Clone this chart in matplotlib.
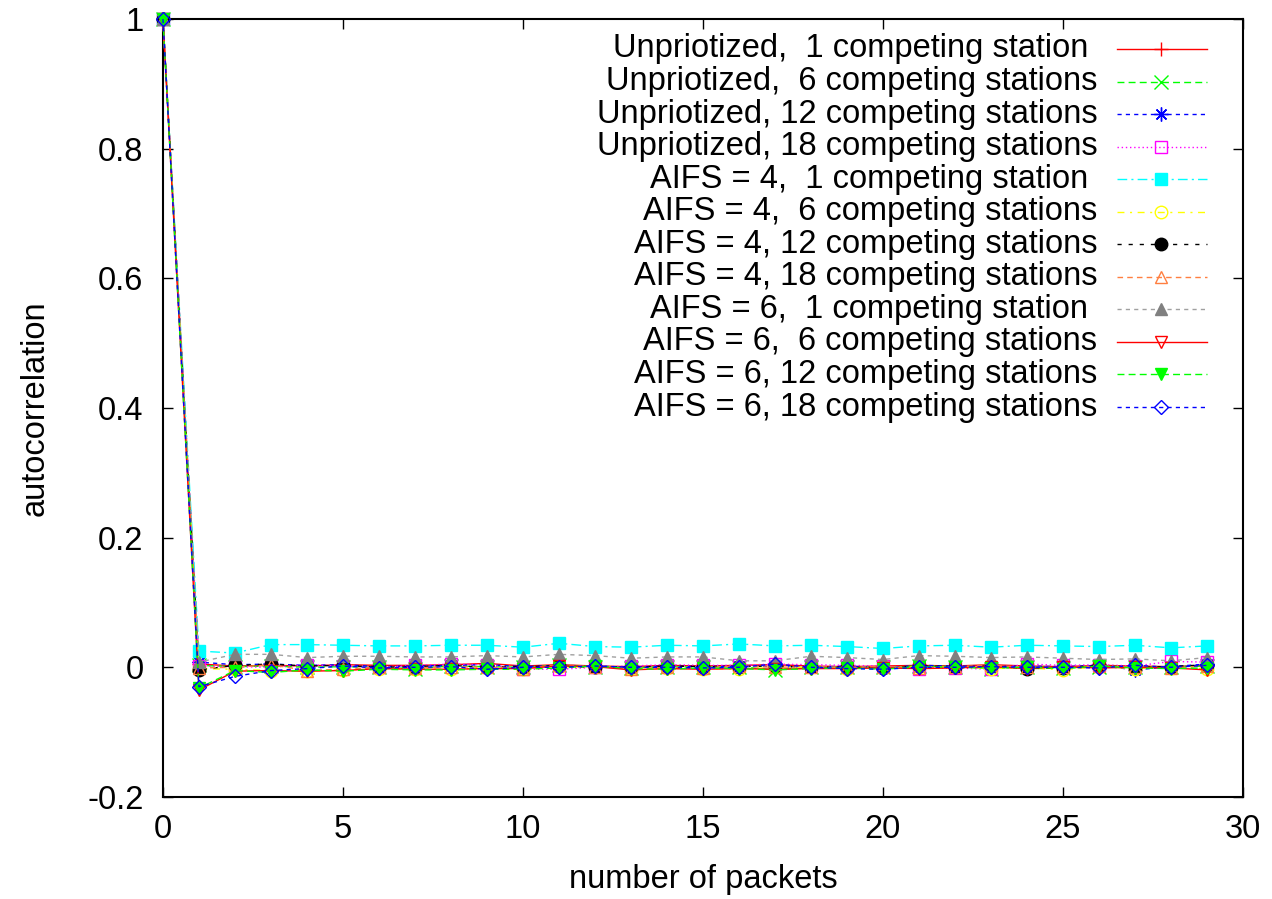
import numpy as np
import matplotlib
matplotlib.use("Agg")
import matplotlib.pyplot as plt

plt.rcParams['font.family'] = ['Liberation Sans', 'DejaVu Sans']

# lag axis
lags = np.arange(0, 30)

# autocorrelation per scenario (lag 1..29, lag 0 is always 1)
unprio_1 = [0.005, 0.002, 0.003, 0.002, 0.004, 0.003, 0.003, 0.004, 0.006, 0.002, 0.004, 0.002, 0.001, 0.003, 0.002,
            0.003, 0.004, 0.002, 0.001, 0.002, 0.003, 0.002, 0.004, 0.002, 0.001, 0.003, 0.002, 0.001, 0.003]
unprio_6 = [0.003, 0.001, 0.002, 0.0, 0.001, 0.0, -0.002, 0.002, 0.001, 0.0, 0.003, 0.001, -0.001, 0.001, 0.0,
            0.001, -0.004, 0.0, 0.001, 0.0, 0.002, 0.001, -0.002, 0.001, -0.001, 0.001, 0.0, 0.001, 0.002]
unprio_12 = [0.008, 0.004, 0.005, 0.003, 0.004, 0.001, 0.002, 0.003, 0.004, 0.001, 0.003, 0.002, 0.0, 0.002, 0.001,
             0.002, 0.001, 0.0, 0.002, -0.001, 0.003, 0.002, 0.001, 0.002, 0.001, 0.003, -0.004, 0.001, 0.005]
unprio_18 = [0.002, 0.001, 0.0, 0.004, 0.002, 0.0, 0.003, 0.005, 0.004, -0.003, -0.003, 0.0, 0.002, 0.004, 0.003,
             0.003, 0.005, 0.004, 0.003, 0.002, -0.002, -0.001, -0.003, 0.005, 0.003, 0.004, 0.002, 0.009, 0.008]
aifs4_1 = [0.025, 0.022, 0.035, 0.035, 0.034, 0.033, 0.033, 0.034, 0.034, 0.031, 0.037, 0.032, 0.031, 0.034, 0.033,
           0.036, 0.033, 0.034, 0.032, 0.029, 0.033, 0.034, 0.031, 0.034, 0.033, 0.032, 0.034, 0.030, 0.033]
aifs4_6 = [-0.002, -0.003, -0.005, -0.006, -0.004, -0.002, -0.002, -0.003, -0.001, -0.003, 0.0, 0.001, -0.002, -0.001, -0.002,
           -0.003, 0.0, 0.0, -0.002, -0.001, 0.001, 0.0, -0.002, -0.001, -0.004, 0.001, -0.002, -0.001, -0.002]
aifs4_12 = [-0.004, 0.003, 0.005, 0.002, 0.003, 0.0, 0.001, 0.003, 0.0, 0.001, 0.002, 0.0, 0.0, 0.002, 0.001,
            0.001, 0.002, 0.0, 0.0, -0.001, 0.002, 0.001, 0.002, -0.002, -0.001, 0.003, 0.0, 0.001, 0.004]
aifs4_18 = [-0.001, 0.0, 0.004, -0.005, -0.003, 0.0, -0.001, 0.001, 0.0, -0.002, 0.004, 0.001, -0.002, 0.0, -0.001,
            0.002, 0.0, 0.001, 0.0, 0.001, -0.001, 0.001, 0.003, 0.0, 0.0, 0.002, 0.001, -0.001, 0.002]
aifs6_1 = [0.008, 0.020, 0.020, 0.015, 0.017, 0.017, 0.016, 0.016, 0.018, 0.016, 0.020, 0.018, 0.014, 0.016, 0.016,
           0.010, 0.010, 0.017, 0.015, 0.012, 0.018, 0.017, 0.015, 0.016, 0.014, 0.012, 0.013, 0.010, 0.015]
aifs6_6 = [-0.035, -0.006, -0.005, -0.006, -0.005, -0.002, -0.003, -0.003, -0.002, -0.002, 0.002, 0.001, -0.004, -0.002, -0.003,
           -0.002, -0.003, -0.002, -0.002, -0.001, -0.002, -0.001, 0.001, -0.002, 0.001, -0.001, 0.0, -0.001, -0.004]
aifs6_12 = [-0.032, -0.005, -0.008, -0.004, -0.006, -0.003, -0.004, -0.004, -0.003, -0.003, -0.001, 0.002, -0.002, -0.003, -0.001,
            -0.002, -0.004, -0.002, -0.001, -0.003, 0.001, 0.0, -0.001, 0.0, -0.002, 0.002, -0.001, -0.002, -0.001]
aifs6_18 = [-0.030, -0.014, -0.005, -0.002, 0.002, -0.001, 0.0, 0.001, -0.003, 0.0, 0.0, 0.002, 0.0, 0.0, -0.001,
            0.0, 0.005, 0.0, -0.002, -0.003, 0.0, 0.0, 0.001, 0.0, 0.0, -0.001, 0.003, 0.0, 0.003]

labels = [
    "Unpriotized,  1 competing station ",
    "Unpriotized,  6 competing stations",
    "Unpriotized, 12 competing stations",
    "Unpriotized, 18 competing stations",
    "AIFS = 4,  1 competing station ",
    "AIFS = 4,  6 competing stations",
    "AIFS = 4, 12 competing stations",
    "AIFS = 4, 18 competing stations",
    "AIFS = 6,  1 competing station ",
    "AIFS = 6,  6 competing stations",
    "AIFS = 6, 12 competing stations",
    "AIFS = 6, 18 competing stations",
]
series = [unprio_1, unprio_6, unprio_12, unprio_18, aifs4_1, aifs4_6,
          aifs4_12, aifs4_18, aifs6_1, aifs6_6, aifs6_12, aifs6_18]

# gnuplot-like line types: (color, dashes, marker, filled)
styles = [
    ("#ff0000", None, "+", False),
    ("#00ff00", (5, 3), "x", False),
    ("#0000ff", (3, 3), (8, 2, 0), False),
    ("#ff00ff", (1, 2), "s", False),
    ("#00ffff", (7, 3, 1.5, 3), "s", True),
    ("#ffff00", (5, 4, 1.5, 4), "o", False),
    ("#000000", (3, 5), "o", True),
    ("#ff7f40", (4, 3), "^", False),
    ("#a0a0a0", (3, 3), "^", True),
    ("#ff0000", None, "v", False),
    ("#00ff00", (5, 3), "v", True),
    ("#0000ff", (3, 3), "D", False),
]
marker_color = {8: "#808080"}
FS = 23.5

fig = plt.figure(figsize=(12.72, 8.99), dpi=100)
ax = fig.add_axes([0.1281, 0.1135, 0.8491, 0.8654])


def line_kw(i):
    color, dashes, marker, filled = styles[i]
    mcol = marker_color.get(i, color)
    kw = dict(color=color, lw=1.0, marker=marker, ms=9,
              markeredgecolor=mcol, markerfacecolor=mcol if filled else "none",
              markeredgewidth=1.0)
    if marker == "D":
        kw["ms"] = 7.5
    if marker in ("+", "x") or isinstance(marker, tuple):
        kw["ms"] = 10
    kw["linestyle"] = "-" if dashes is None else (0, dashes)
    return kw


for i, vals in enumerate(series):
    y = np.concatenate([[1.0], vals])
    ax.plot(lags, y, clip_on=False, zorder=3, **line_kw(i))

ax.set_xlim(0, 30)
ax.set_ylim(-0.2, 1.0)
ax.set_xticks(np.arange(0, 31, 5))
ax.set_yticks([-0.2, 0, 0.2, 0.4, 0.6, 0.8, 1.0])
ax.set_yticklabels(["-0.2", "0", "0.2", "0.4", "0.6", "0.8", "1"])
ax.tick_params(direction="in", top=True, right=True, length=7, width=1.0,
               labelsize=FS)
ax.tick_params(axis="y", pad=14)
ax.tick_params(axis="x", pad=12)
for sp in ax.spines.values():
    sp.set_linewidth(1.5)

ax.set_xlabel("number of packets", fontsize=FS)
ax.set_ylabel("autocorrelation", fontsize=FS)
ax.xaxis.set_label_coords(0.5, -0.1067)
ax.xaxis.label.set_va("center")
ax.yaxis.set_label_coords(-0.1185, 0.5)
ax.yaxis.label.set_va("center")

# key in the upper right, text right-aligned before the sample
row_top = (49 - 19) / 778
row_step = 32.55 / 778
x_text = 0.8650
x0, x1, xm = 0.883, 0.9667, 0.924
for i, lab in enumerate(labels):
    yy = 1 - row_top - i * row_step
    ax.text(x_text, yy, lab, transform=ax.transAxes, ha="right", va="center", fontsize=FS)
    kw = line_kw(i)
    marker = kw.pop("marker")
    ms = kw.pop("ms")
    mec = kw.pop("markeredgecolor")
    mfc = kw.pop("markerfacecolor")
    mew = kw.pop("markeredgewidth")
    ax.plot([x0, x1], [yy, yy], transform=ax.transAxes, clip_on=False, **kw)
    ax.plot([xm], [yy], transform=ax.transAxes, clip_on=False, linestyle="none",
            marker=marker, ms=ms, markeredgecolor=mec, markerfacecolor=mfc, markeredgewidth=mew)

fig.savefig("out.png", dpi=100)
